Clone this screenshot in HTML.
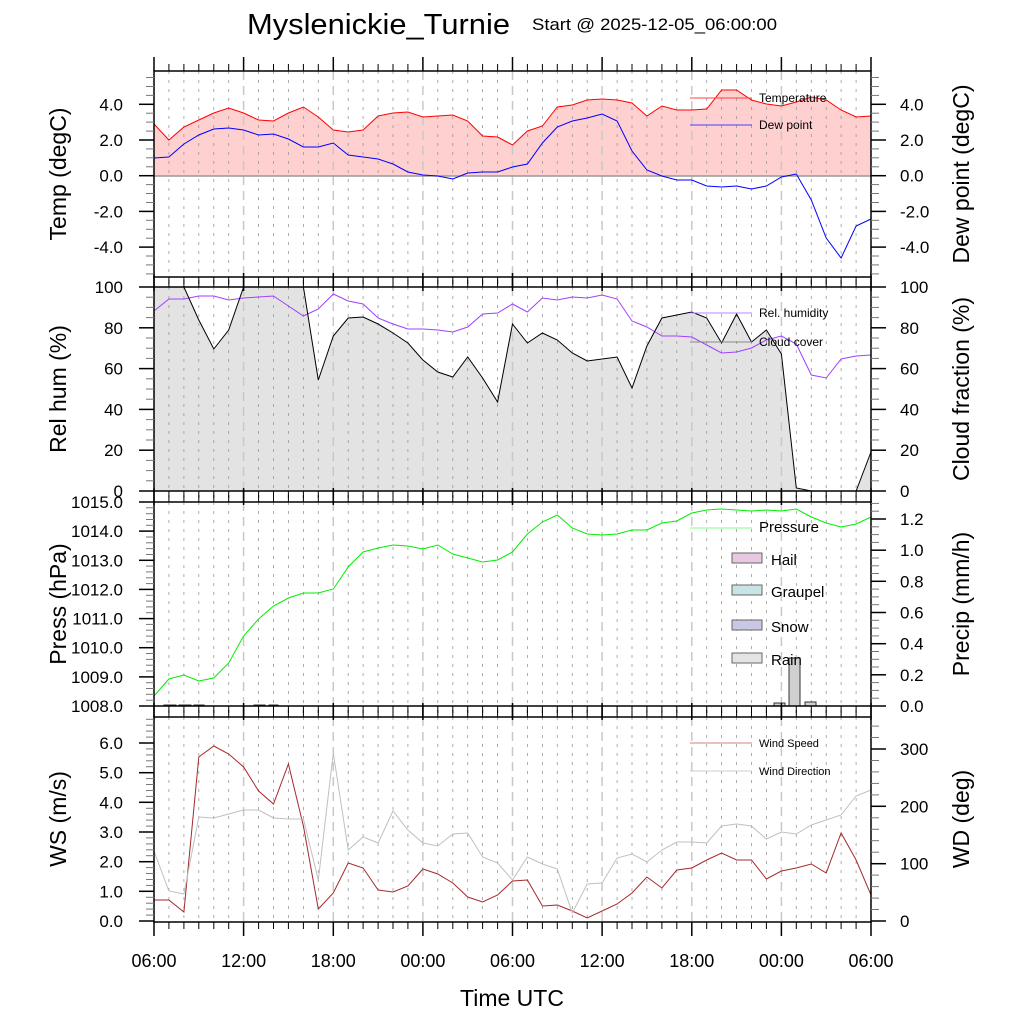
<!DOCTYPE html>
<html><head><meta charset="utf-8"><style>
html,body{margin:0;padding:0;background:#fff;}
svg{display:block;font-family:"Liberation Sans",sans-serif;}
</style></head><body>
<svg id="s" width="1024" height="1024" xmlns="http://www.w3.org/2000/svg"></svg>
<script>
const s=document.getElementById('s');let h='';
const L=154,R=871,HW=(R-L)/48;
const X=i=>L+HW*i;
const P=[[71,277],[287,491],[502,706],[717,922]];
function poly(ys,col,w){return `<polyline fill="none" stroke="${col}" stroke-width="${w||1}" points="${ys.map((y,i)=>X(i).toFixed(1)+','+y).join(' ')}"/>`;}
function area(ys,base,fill){return `<polygon fill="${fill}" stroke="none" points="${L},${base} ${ys.map((y,i)=>X(i).toFixed(1)+','+y).join(' ')} ${R},${base}"/>`;}
const T=[124,140,127,120,113,108,113,120,121,113,107,117,130,132,130,116,113,112,117,116,115,121,136,137,145,131,126,107,105,100,99,100,103,116,106,110,110,109,90,90,100,104,106,102,97,100,110,117,116];
const D=[158,157,144,135,129,128,130,135,134,139,147,147,143,155,157,159,164,172,175,176,179,173,172,172,167,164,143,127,121,118,114,121,151,170,176,180,180,186,187,186,189,186,177,174,200,238,258,226,219];
const RH=[311,299,299,296,296,300,298,297,296,306,316,309,294,301,304,318,324,329,329,330,332,327,314,313,304,312,298,300,297,298,295,299,321,327,336,336,337,345,353,352,348,340,336,344,375,378,359,356,355];
const CC=[287,287,287,320,349,330,287,287,287,287,287,380,336,318,317,324,333,343,360,372,377,357,378,402,324,343,333,340,353,361,359,357,388,346,318,315,312,318,343,314,342,330,354,488,491,491,491,491,452];
const PR=[696,679,675,681,678,663,636,619,606,598,593,593,589,567,552,548,545,546,549,545,554,558,562,560,552,534,522,515,528,534,535,534,530,530,523,521,513,510,509,510,511,510,511,509,517,523,527,524,517];
const WS=[900,900,912,757,746,754,767,791,804,764,826,909,893,863,868,890,892,886,869,874,883,897,902,895,881,880,906,905,911,918,911,904,893,877,888,870,868,860,853,860,860,879,871,868,864,873,833,860,895];
const WD=[851,891,894,817,818,814,810,810,818,819,819,880,753,850,837,843,811,830,843,846,834,833,857,863,880,857,864,869,913,884,883,858,854,862,850,842,842,843,826,824,826,839,832,834,825,820,815,796,790];
// fills
h+=`<clipPath id="c1"><rect x="${L}" y="71" width="${R-L}" height="105"/></clipPath>`;
h+=`<g clip-path="url(#c1)">`+area(T,176,'#ffd0d0')+`</g>`;
h+=area(CC,491,'#e3e3e3');
// grids
for(let k=0;k<4;k++){const [a,b]=P[k];for(let i=1;i<48;i++){const x=X(i).toFixed(1);if(i%6==0)h+=`<line x1="${x}" y1="${a}" x2="${x}" y2="${b}" stroke="#c8c8c8" stroke-width="1.5" stroke-dasharray="9,6"/>`;else h+=`<line x1="${x}" y1="${a}" x2="${x}" y2="${b}" stroke="#999" stroke-width="0.8" stroke-dasharray="3,6"/>`;}}
h+=`<line x1="${L}" y1="176" x2="${R}" y2="176" stroke="#999" stroke-width="1.5"/>`;
// series
h+=poly(T,'#ff0000')+poly(D,'#0000ff');
h+=poly(RH,'#a040ff')+poly(CC,'#000');
h+=poly(PR,'#00ee00');
// rain bars
[[164,12,705],[179,12,705],[194,10,705],[254,11,705],[269,9,705],[774,11,703],[789,11,658],[805,11,702]].forEach(b=>{h+=`<rect x="${b[0]}" y="${b[2]}" width="${b[1]}" height="${706-b[2]}" fill="#d0d0d0" stroke="#333" stroke-width="1"/>`;});
h+=poly(WS,'#a52a2a')+poly(WD,'#c0c0c0');
// frames and x ticks
for(let k=0;k<4;k++){const [a,b]=P[k];h+=`<rect x="${L}" y="${a}" width="${R-L}" height="${b-a}" fill="none" stroke="#000" stroke-width="1.5"/>`;}
function xt(y,dir){for(let i=0;i<=48;i++){const x=X(i).toFixed(1);const len=i%6==0?14:7;h+=`<line x1="${x}" y1="${y}" x2="${x}" y2="${y+dir*len}" stroke="#000" stroke-width="${i%6==0?1.5:1}"/>`;}}
xt(71,-1);xt(277,1);xt(287,-1);xt(491,1);xt(502,-1);xt(706,1);xt(717,-1);xt(922,1);
for(let i=0;i<=48;i++){const x=X(i).toFixed(1);if(i%6)continue;}
// y axes
function yax(side,v0,y0,v1,y1,vmin,vmax,major,minor,fmt,bounds){
 const sc=(y1-y0)/(v1-v0);const xa=side<0?L:R;
 for(let v=Math.ceil(vmin/minor-1e-6)*minor;v<=vmax+1e-6;v+=minor){const y=y0+(v-v0)*sc;if(y<bounds[0]-0.5||y>bounds[1]+0.5)continue;const mj=Math.abs(v/major-Math.round(v/major))<1e-6;h+=`<line x1="${xa}" y1="${y.toFixed(1)}" x2="${xa+side*(mj?15:8)}" y2="${y.toFixed(1)}" stroke="${mj?'#000':'#777'}" stroke-width="${mj?1.5:1}"/>`;
 if(mj){h+=`<text x="${side<0?L-31:R+29}" y="${(y+6).toFixed(1)}" font-size="17" text-anchor="${side<0?'end':'start'}">${fmt(v)}</text>`;}}
}
const f1=v=>v.toFixed(1),f0=v=>Math.round(v)+'';
yax(-1,4,104.3,0,175.7,-5.6,5.9,2,0.5,f1,[71,277]);yax(1,4,104.3,0,175.7,-5.6,5.9,2,0.5,f1,[71,277]);
yax(-1,100,287,0,491,0,100,20,5,f0,[287,491]);yax(1,100,287,0,491,0,100,20,5,f0,[287,491]);
yax(-1,1015,502,1008,706,1008,1015,1,0.2,f1,[502,706]);
yax(1,1.2,519,0,706,0,1.3,0.2,0.05,f1,[502,706]);
yax(-1,6,743,0,921,0,6.9,1,0.2,f1,[717,922]);
yax(1,300,749,0,921,0,350,100,20,f0,[717,922]);
// y axis labels
function yl(x,y,t){h+=`<text x="${x}" y="${y}" font-size="23" text-anchor="middle" transform="rotate(-90 ${x} ${y})">${t}</text>`;}
yl(66,174,'Temp (degC)');yl(969,174,'Dew point (degC)');
yl(66,389,'Rel hum (%)');yl(969,389,'Cloud fraction (%)');
yl(66,604,'Press (hPa)');yl(969,604,'Precip (mm/h)');
yl(66,819,'WS (m/s)');yl(969,819,'WD (deg)');
// x labels
['06:00','12:00','18:00','00:00','06:00','12:00','18:00','00:00','06:00'].forEach((t,j)=>{h+=`<text x="${X(j*6).toFixed(1)}" y="967" font-size="18" text-anchor="middle">${t}</text>`;});
h+=`<text x="512" y="1006" font-size="23" text-anchor="middle">Time UTC</text>`;
// title
h+=`<text x="247" y="34" font-size="29" textLength="263" lengthAdjust="spacingAndGlyphs">Myslenickie_Turnie</text>`;
h+=`<text x="532" y="30" font-size="17" textLength="245" lengthAdjust="spacingAndGlyphs">Start @ 2025-12-05_06:00:00</text>`;
// legends
function lg(y,col,t,fs){h+=`<line x1="690" y1="${y}" x2="752" y2="${y}" stroke="${col}"/><text x="759" y="${y+4}" font-size="${fs}">${t}</text>`;}
lg(98,'#ff4040','Temperature',12);lg(125,'#4040ff','Dew point',12);
lg(313,'#c080ff','Rel. humidity',12);lg(342,'#888','Cloud cover',12);
lg(528,'#80ff80','Pressure',15);
lg(743,'#d08080','Wind Speed',11);lg(771,'#ccc','Wind Direction',11);
[['Hail','#e8c8e0',559],['Graupel','#c8e4e4',591],['Snow','#c8c8e4',626],['Rain','#e4e4e4',659]].forEach(r=>{h+=`<rect x="732" y="${r[2]-6}" width="30" height="10" fill="${r[1]}" stroke="#666"/><text x="771" y="${r[2]+6}" font-size="15">${r[0]}</text>`;});
s.innerHTML=h;
</script>
</body></html>
